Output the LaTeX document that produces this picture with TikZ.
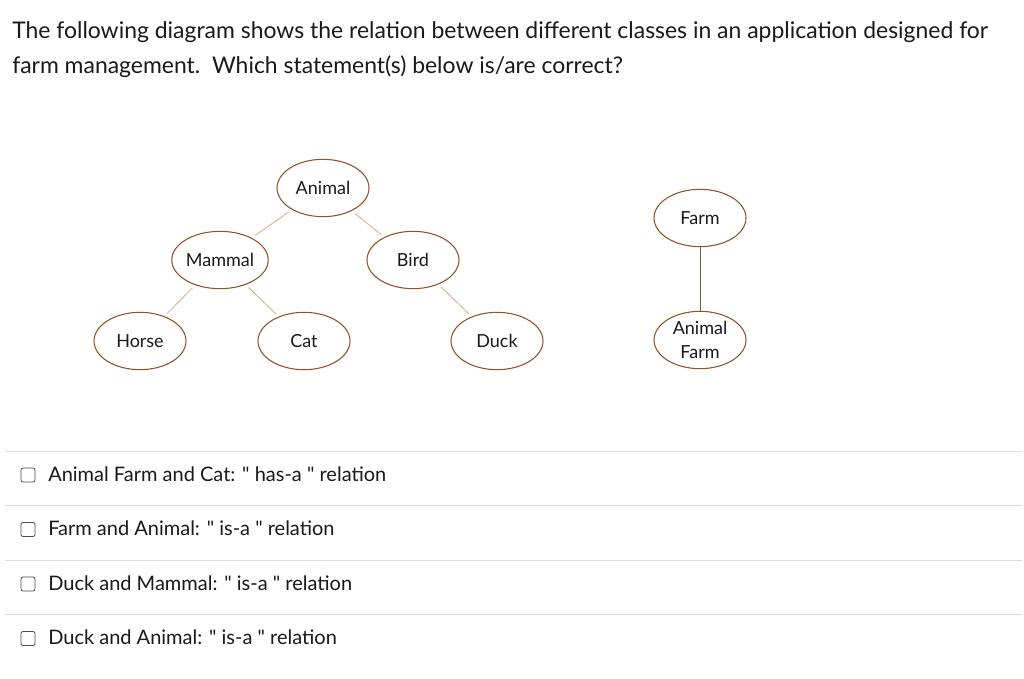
\documentclass[tikz,border=0pt]{standalone}
\usepackage{fontspec}
\setmainfont[Ligatures=TeXOff]{Lato}
\usetikzlibrary{shapes.geometric}

\definecolor{nodeline}{RGB}{150,80,40}
\definecolor{edgeline}{RGB}{215,170,140}
\definecolor{ruleline}{RGB}{220,220,220}
\definecolor{inktext}{RGB}{25,25,30}

\tikzset{
  classnode/.style={ellipse, draw=nodeline, thick, fill=white,
    minimum width=69pt, minimum height=43pt, inner sep=0pt,
    font=\fontsize{13.5}{18}\selectfont, text=inktext, align=center},
  classedge/.style={draw=edgeline, semithick, shorten <=3pt, shorten >=3pt},
  farmedge/.style={draw=nodeline, semithick},
  optionbox/.style={draw=black!70, rounded corners=1.5pt, minimum size=10.5pt,
    inner sep=0pt, semithick},
  optiontext/.style={anchor=base west, inner sep=0pt, text=inktext,
    font=\fontsize{15}{18}\selectfont},
  titletext/.style={anchor=base west, inner sep=0pt, text=inktext,
    font=\fontsize{17.2}{20}\selectfont},
}

\begin{document}
\begin{tikzpicture}[x=0.75pt, y=-0.75pt]

    % Drawing Parameters
    \pgfmathsetmacro{\optionleft}{28}%
    \pgfmathsetmacro{\optiontop}{475}%
    \pgfmathsetmacro{\optiongap}{54.5}%

    \useasboundingbox[fill=white] (0,0) rectangle (1024,678);

    % Question
    \node[titletext] (title1) at (12,38) {The following diagram shows the relation between different classes in an application designed for};
    \node[titletext] (title2) at (12,73) {farm management.\ \ Which statement(s) below is/are correct?};

    % Class tree
    \node[classnode] (animal) at (323,188) {Animal};
    \node[classnode] (mammal) at (220,260) {Mammal};
    \node[classnode] (bird)   at (413,260) {Bird};
    \node[classnode] (horse)  at (140,341) {Horse};
    \node[classnode] (cat)    at (304,341) {Cat};
    \node[classnode] (duck)   at (497,341) {Duck};

    \draw[classedge] (animal) -- (mammal);
    \draw[classedge] (animal) -- (bird);
    \draw[classedge] (mammal) -- (horse);
    \draw[classedge] (mammal) -- (cat);
    \draw[classedge] (bird) -- (duck);

    % Farm
    \node[classnode] (farm)       at (700,218) {Farm};
    \node[classnode] (animalfarm) at (700,340) {Animal\\Farm};
    \draw[farmedge] (farm) -- (animalfarm);

    % Options
    \foreach \i/\txt in {0/{Animal Farm and Cat: " has-a " relation},
                         1/{Farm and Animal: " is-a " relation},
                         2/{Duck and Mammal: " is-a " relation},
                         3/{Duck and Animal: " is-a " relation}} {
      \draw[ruleline, thin] (5,\optiontop+\i*\optiongap-24) -- (1022,\optiontop+\i*\optiongap-24);
      \node[optionbox] (box\i) at (\optionleft,\optiontop+\i*\optiongap) {};
      \node[optiontext] (opt\i) at (48,\optiontop+\i*\optiongap+6) {\txt};
    }
  \end{tikzpicture}
\end{document}
